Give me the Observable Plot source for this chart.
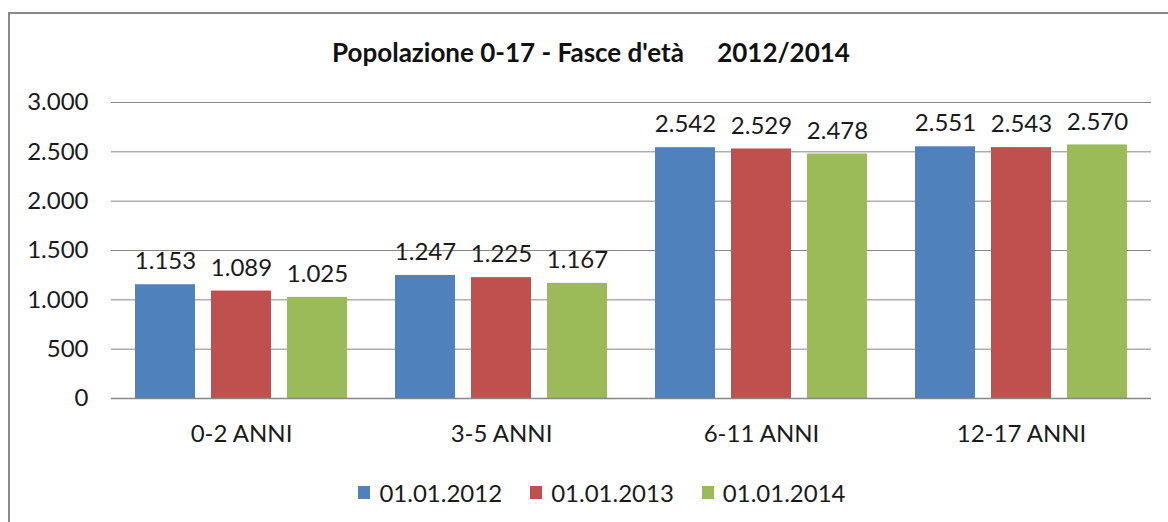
<!DOCTYPE html>
<html>
<head>
<meta charset="utf-8">
<script src="https://cdn.jsdelivr.net/npm/d3@7"></script>
<script src="https://cdn.jsdelivr.net/npm/@observablehq/plot@0.6"></script>
<style>
  html, body { margin: 0; padding: 0; background: #fff; }
  #wrap { position: relative; width: 1168px; height: 522px; overflow: hidden; font-family: Lato, sans-serif; color: #1a1a1a; }
  #frame { position: absolute; left: 8px; top: 12px; width: 1200px; height: 600px; border-left: 2px solid #8a8a8a; border-top: 2px solid #8a8a8a; box-sizing: border-box; }
  #title { position: relative; height: 80px; box-sizing: border-box; padding-top: 38px; line-height: 28px; text-align: center; font-weight: bold; font-size: 26px; width: 1182px; white-space: pre; color: #111; }
  #title .gap { letter-spacing: 2px; }
  #chart { position: relative; height: 390px; }
  #legend { position: relative; height: 44px; display: flex; justify-content: center; align-items: center; font-size: 24px; width: 1204px; }
  .item { display: flex; align-items: center; margin: 0 14px; }
  .sw { width: 12px; height: 13px; margin-right: 9px; }
</style>
</head>
<body>
<div id="wrap">
  <div id="frame"></div>
  <div id="title"></div>
  <div id="chart"></div>
  <div id="legend"></div>
</div>
<script>
const titleText = "Popolazione 0-17 - Fasce d'età    2012/2014";
const categories = ["0-2 ANNI", "3-5 ANNI", "6-11 ANNI", "12-17 ANNI"];
const series = ["01.01.2012", "01.01.2013", "01.01.2014"];
const values2012 = [1153, 1247, 2542, 2551];
const values2013 = [1089, 1225, 2529, 2543];
const values2014 = [1025, 1167, 2478, 2570];
const yTicks = [0, 500, 1000, 1500, 2000, 2500, 3000];
const colors = ["#4F81BD", "#C0504D", "#9BBB59"];

const allValues = [values2012, values2013, values2014];
const data = categories.flatMap((c, i) => allValues.map((v, j) => ({category: c, series: series[j], value: v[i]})));
const locale = d3.formatLocale({decimal: ",", thousands: ".", grouping: [3], currency: ["", " €"]});
const fmt = locale.format(",d");

const titleEl = document.getElementById("title");
titleText.split(/(\s{2,})/).forEach(part => {
  const span = document.createElement("span");
  if (/^\s{2,}$/.test(part)) span.className = "gap";
  span.textContent = part;
  titleEl.appendChild(span);
});

const chart = Plot.plot({
  width: 1168,
  height: 390,
  marginLeft: 110,
  marginRight: 16,
  marginTop: 22,
  marginBottom: 72,
  style: {fontFamily: "Lato, sans-serif", fontSize: "24px", color: "#1a1a1a", background: "transparent", overflow: "visible"},
  fx: {domain: categories, padding: 0, label: null, axis: "bottom", tickSize: 0, tickPadding: 26},
  x: {domain: series, paddingInner: 0.21, paddingOuter: 0.3, axis: null},
  y: {domain: [0, 3000], axis: null},
  color: {domain: series, range: colors},
  marks: [
    Plot.gridY(yTicks, {stroke: "#868686", strokeOpacity: 1}),
    Plot.axisY(yTicks, {tickSize: 0, tickPadding: 23, tickFormat: fmt, label: null, fontSize: 24}),
    Plot.barY(data, {fx: "category", x: "series", y: "value", fill: "series"}),
    Plot.text(data, {fx: "category", x: "series", y: "value", text: d => fmt(d.value), dy: -23, fontSize: 24}),
    Plot.ruleY([0], {stroke: "#868686", strokeWidth: 1.5})
  ]
});
document.getElementById("chart").appendChild(chart);

const legend = document.getElementById("legend");
series.forEach((s, i) => {
  const item = document.createElement("div");
  item.className = "item";
  const sw = document.createElement("div");
  sw.className = "sw";
  sw.style.background = colors[i];
  const lab = document.createElement("span");
  lab.textContent = s;
  item.appendChild(sw);
  item.appendChild(lab);
  legend.appendChild(item);
});
</script>
</body>
</html>
